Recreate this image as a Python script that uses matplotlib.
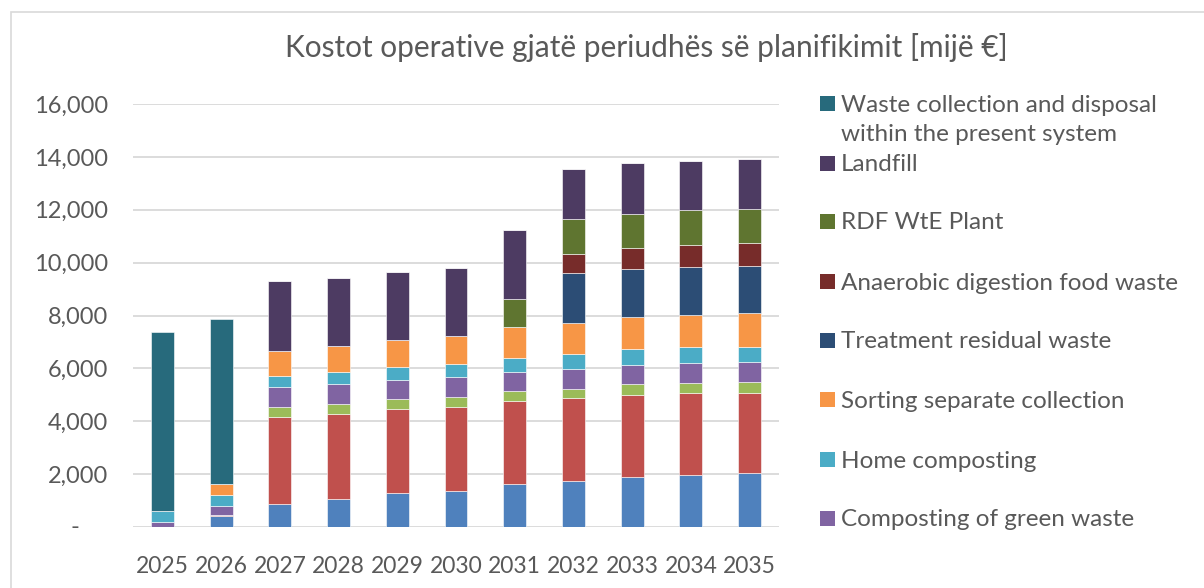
import matplotlib
matplotlib.use("Agg")
import matplotlib.pyplot as plt
from matplotlib.patches import Rectangle
from matplotlib.ticker import FuncFormatter
import matplotlib.transforms as mtransforms
import numpy as np

plt.rcParams['font.family'] = ['Lato', 'DejaVu Sans']

years = ['2025', '2026', '2027', '2028', '2029', '2030', '2031', '2032', '2033', '2034', '2035']

# Stack order bottom -> top
series_names = [
    'Series A',
    'Series B',
    'Series C',
    'Composting of green waste',
    'Home composting',
    'Sorting separate collection',
    'Treatment residual waste',
    'Anaerobic digestion food waste',
    'RDF WtE Plant',
    'Landfill',
    'Waste collection and disposal\nwithin the present system',
]
colors = ['#4F81BD', '#C0504D', '#9BBB59', '#8064A2', '#4BACC6', '#F79646',
          '#2C4D75', '#772C2A', '#5F7530', '#4D3B62', '#276A7C']

s_blue      = [0, 420, 880, 1050, 1270, 1370, 1625, 1730, 1900, 1965, 2030]
s_red       = [0, 20, 3290, 3240, 3180, 3180, 3150, 3140, 3100, 3090, 3050]
s_green     = [0, 0, 380, 380, 390, 365, 365, 365, 400, 380, 400]
s_compost   = [200, 370, 730, 730, 730, 745, 730, 755, 745, 755, 745]
s_home      = [400, 415, 440, 470, 480, 515, 540, 555, 590, 605, 590]
s_sorting   = [0, 400, 930, 970, 1020, 1060, 1150, 1185, 1200, 1225, 1270]
s_treatment = [0, 0, 0, 0, 0, 0, 0, 1865, 1840, 1800, 1800]
s_ad        = [0, 0, 0, 0, 0, 0, 0, 720, 795, 830, 855]
s_rdf       = [0, 0, 0, 0, 0, 0, 1060, 1335, 1285, 1325, 1285]
s_landfill  = [0, 0, 2650, 2580, 2580, 2570, 2600, 1880, 1930, 1875, 1880]
s_present   = [6780, 6260, 0, 0, 0, 0, 0, 0, 0, 0, 0]

data = [s_blue, s_red, s_green, s_compost, s_home, s_sorting, s_treatment,
        s_ad, s_rdf, s_landfill, s_present]

legend_order = [10, 9, 8, 7, 6, 5, 4, 3]

W, H = 1204, 588
fig = plt.figure(figsize=(W / 100, H / 100), dpi=100)
fig.patch.set_facecolor('white')

# chart border (extends beyond the image at right/bottom)
fig.patches.append(Rectangle((11 / W, -0.05), 1.2, 1 - 12 / H + 0.05,
                             transform=fig.transFigure, fill=False,
                             edgecolor='#d9d9d9', linewidth=1.2))

ax = fig.add_axes([133 / W, 1 - 527 / H, (779 - 133) / W, (527 - 104) / H])
x = np.arange(len(years))
bottom = np.zeros(len(years))
for vals, c, name in zip(data, colors, series_names):
    v = np.array(vals, dtype=float)
    ax.bar(x, v, 0.39, bottom=bottom, color=c, edgecolor='white',
           linewidth=0.4, label=name, zorder=3)
    bottom += v

ax.set_xlim(-0.5, len(years) - 0.5)
ax.set_ylim(0, 16000)
ax.set_yticks(np.arange(0, 16001, 2000))
ax.yaxis.set_major_formatter(FuncFormatter(
    lambda v, p: '' if v == 0 else f'{v:,.0f}'))
ax.set_xticks(x)
ax.set_xticklabels(years)
ax.grid(axis='y', color='#d9d9d9', linewidth=1.3, zorder=0)
for sp in ax.spines.values():
    sp.set_visible(False)
ax.tick_params(axis='y', length=0, labelsize=17, colors='#595959', pad=18)
ax.tick_params(axis='x', length=0, labelsize=16.5, colors='#595959', pad=21)

# zero label shown as a dash (accounting format)
ax.text(75 / W, 0, '-', transform=mtransforms.blended_transform_factory(fig.transFigure, ax.transData),
        ha='center', va='center', fontsize=17, color='#595959')

fig.text(646 / W, 1 - 48 / H, 'Kostot operative gjatë periudhës së planifikimit [mijë €]',
         ha='center', va='center', fontsize=21.5, color='#595959')

# legend (manual, as in the reference)
ys = [104, 164, 222, 282, 341, 400, 460, 519]
for idx, y in zip(legend_order, ys):
    fig.patches.append(Rectangle((820 / W, 1 - (y + 7) / H), 15 / W, 15 / H,
                                 transform=fig.transFigure,
                                 facecolor=colors[idx], edgecolor='none'))
    name = series_names[idx]
    yc = y + 15 if '\n' in name else y
    fig.text(841 / W, 1 - (yc + 1) / H, name, ha='left', va='center',
             fontsize=17.5, color='#595959', linespacing=1.45)

fig.savefig('out.png', dpi=100)
